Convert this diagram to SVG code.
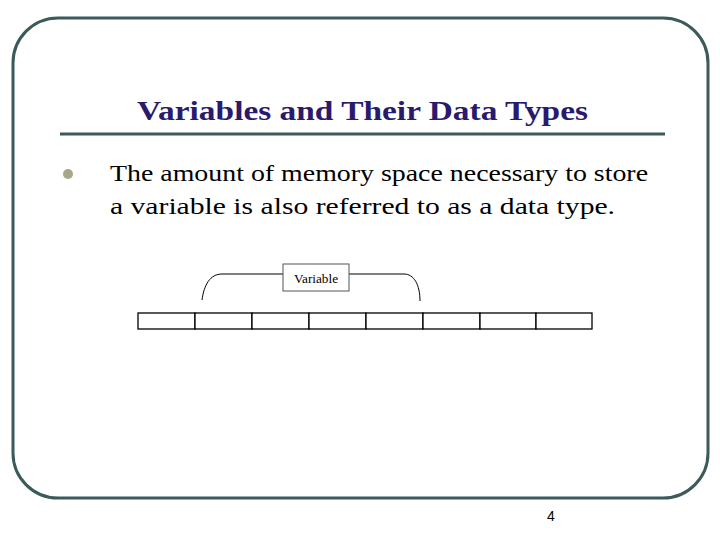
<svg xmlns="http://www.w3.org/2000/svg" width="720" height="540" viewBox="0 0 720 540">
<style>
.t{font-family:"Liberation Serif","Times New Roman",serif;fill:#000}
.c{fill:#fff;stroke:#000;stroke-width:1.3}
</style>
<rect width="720" height="540" fill="#fff"/>
<rect x="13" y="18" width="695" height="480" rx="45" fill="none" stroke="#3b5a5a" stroke-width="3"/>
<text class="t" x="137" y="120" font-size="27" font-weight="bold" style="fill:#2a1a6e" textLength="451" lengthAdjust="spacingAndGlyphs">Variables and Their Data Types</text>
<line x1="60" y1="134" x2="665" y2="134" stroke="#3b5a5a" stroke-width="3"/>
<circle cx="68" cy="174" r="5" fill="#a8a888"/>
<text class="t" x="110" y="181" font-size="24" textLength="538" lengthAdjust="spacingAndGlyphs">The amount of memory space necessary to store</text>
<text class="t" x="110" y="214" font-size="24" textLength="505" lengthAdjust="spacingAndGlyphs">a variable is also referred to as a data type.</text>
<g id="connectors" fill="none" stroke="#000" stroke-width="1">
<path d="M202,300 C204,285 210,274 222,274 L283,274"/>
<path d="M349,274 L404,274 C414,274 420,285 420,301"/>
</g>
<g id="variable">
<rect x="283" y="264" width="66" height="27" fill="#fff" stroke="#555" stroke-width="1"/>
<text class="t" x="294" y="283" font-size="12" textLength="44" lengthAdjust="spacingAndGlyphs">Variable</text>
</g>
<g id="memory">
<rect class="c" x="138" y="313" width="57" height="16"/>
<rect class="c" x="195" y="313" width="57" height="16"/>
<rect class="c" x="252" y="313" width="57" height="16"/>
<rect class="c" x="309" y="313" width="57" height="16"/>
<rect class="c" x="366" y="313" width="57" height="16"/>
<rect class="c" x="423" y="313" width="57" height="16"/>
<rect class="c" x="480" y="313" width="56" height="16"/>
<rect class="c" x="536" y="313" width="56" height="16"/>
</g>
<text x="551" y="521" text-anchor="middle" font-size="14" font-family="Liberation Sans,sans-serif">4</text>
</svg>
